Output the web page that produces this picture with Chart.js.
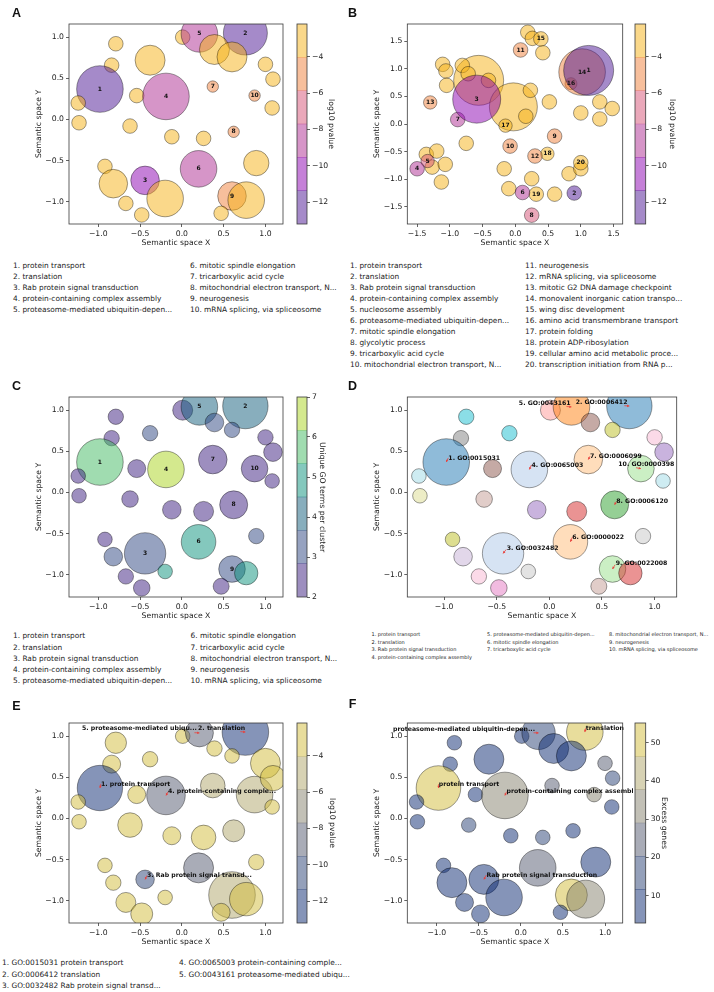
<!DOCTYPE html>
<html>
<head>
<meta charset="utf-8">
<script src="https://cdn.jsdelivr.net/npm/chart.js@4.4.0/dist/chart.umd.min.js"></script>
<style>
  html, body { margin: 0; padding: 0; background: #fff; }
  body { width: 714px; height: 992px; position: relative; overflow: hidden; font-family: 'DejaVu Sans', sans-serif; color: #222; }
  canvas { position: absolute; }
  .cb { background: #fff; }
  .tag { position: absolute; font: bold 12.5px 'Liberation Sans', Arial, sans-serif; color: #111; transform: translate(-50%, -50%); }
  .list { position: absolute; white-space: nowrap; color: #222; }
</style>
</head>
<body>
<canvas id="pA" width="290" height="250" style="left:0px;top:0px"></canvas>
<canvas id="cA" class="cb" width="60" height="250" style="left:290px;top:0px"></canvas>
<canvas id="pB" width="280" height="250" style="left:350px;top:0px"></canvas>
<canvas id="cB" class="cb" width="84" height="250" style="left:630px;top:0px"></canvas>
<canvas id="pC" width="290" height="250" style="left:0px;top:373px"></canvas>
<canvas id="cC" class="cb" width="60" height="250" style="left:290px;top:373px"></canvas>
<canvas id="pD" width="364" height="250" style="left:350px;top:373px"></canvas>
<canvas id="pE" width="290" height="250" style="left:0px;top:699px"></canvas>
<canvas id="cE" class="cb" width="60" height="250" style="left:290px;top:699px"></canvas>
<canvas id="pF" width="283" height="250" style="left:350px;top:699px"></canvas>
<canvas id="cF" class="cb" width="81" height="250" style="left:633px;top:699px"></canvas>

<div class="tag" style="left:16.5px;top:12.5px">A</div>
<div class="tag" style="left:352.5px;top:12.5px">B</div>
<div class="tag" style="left:16.5px;top:385.5px">C</div>
<div class="tag" style="left:352.5px;top:385.5px">D</div>
<div class="tag" style="left:16.5px;top:706px">E</div>
<div class="tag" style="left:352.5px;top:704px">F</div>

<script>
// ---- data ----
// the 10 clusters used in panels A, C, D, E, F
const clusterNames = [
  'protein transport', 'translation', 'Rab protein signal transduction',
  'protein-containing complex assembly',
  'proteasome-mediated ubiquitin-dependent protein catabolic process',
  'mitotic spindle elongation', 'tricarboxylic acid cycle',
  'mitochondrial electron transport, NADH to ubiquinone', 'neurogenesis',
  'mRNA splicing, via spliceosome'
];
const clusterGO = ['GO:0015031', 'GO:0006412', 'GO:0032482', 'GO:0065003', 'GO:0043161',
  'GO:0000022', 'GO:0006099', 'GO:0006120', 'GO:0022008', 'GO:0000398'];

// 33 terms in semantic space (panels A, C, D, E, F)
const semX = [0.01, 0.21, 0.76, 0.39, 0.60, -0.79, -0.84, -0.38, -0.98, -1.24, -1.23, -0.54, -0.19, 0.37, 0.87, 1.00, 1.09,
  1.08, -0.62, -0.12, 0.26, 0.62, 0.89, 0.20, -0.92, -0.44, -0.82, -0.20, 0.60, 0.77, -0.67, -0.48, 0.47];
const semY = [1.00, 1.04, 1.05, 0.85, 0.76, 0.92, 0.66, 0.72, 0.37, 0.20, -0.04, 0.29, 0.28, 0.40, 0.29, 0.67, 0.49,
  0.14, -0.08, -0.21, -0.23, -0.15, -0.53, -0.60, -0.57, -0.74, -0.78, -0.96, -0.93, -0.98, -1.02, -1.16, -1.14];
const clusterNo = [null, 5, 2, null, null, null, null, null, 1, null, null, null, 4, 7, 10, null, null,
  null, null, null, null, 8, null, 6, null, 3, null, null, 9, null, null, null, null];
const log10p = [-3.1, -8.6, -12.1, -2.9, -3.3, -2.7, -3.0, -3.4, -13.0, -2.6, -2.8, -3.2, -8.3, -5.1, -4.9, -3.0, -2.9,
  -2.7, -3.5, -3.1, -3.3, -5.2, -3.6, -8.8, -2.8, -10.4, -3.2, -3.7, -4.8, -3.0, -2.9, -3.1, -3.4];
const uniqueGO = [2, 4, 4, 3, 3, 2, 2, 3, 6, 2, 2, 2, 7, 2, 2, 2, 2,
  2, 2, 2, 2, 2, 3, 5, 2, 3, 3, 5, 3, 5, 2, 2, 2];
const excessGenes = [8, 16, 52, 8, 8, 8, 8, 8, 52, 8, 8, 8, 33, 25, 33, 25, 16,
  8, 16, 8, 16, 8, 8, 24, 8, 8, 8, 8, 50, 33, 8, 8, 8];
// bubble radii (px) per panel
const sizeA = [7.3, 18.3, 22, 15, 15, 7.3, 7.3, 15, 23.3, 7.3, 7.3, 7.3, 23.3, 5.7, 5.7, 7.3, 7.3,
  7.3, 7.3, 7.3, 7.3, 5.7, 12.7, 18.3, 7.3, 14.3, 14.3, 18.3, 14.3, 18.3, 7.3, 7.3, 7.3];
const sizeC = [10, 18.3, 22.7, 9.3, 7.7, 7.7, 7.7, 7.7, 23.3, 7.3, 7.3, 9, 18.3, 14.3, 13.3, 7.7, 9.3,
  7.3, 8.3, 9.3, 10, 14, 7.7, 17.3, 7.3, 20.7, 9.3, 7.3, 13.3, 11.7, 7.7, 8.3, 8];
const sizeE = [7.3, 14, 23.3, 7.7, 7.3, 10.7, 9, 7.7, 22.7, 7.3, 7.3, 9, 19.3, 12.3, 18.3, 15, 12.7,
  7.3, 12.3, 9, 12.3, 11, 7.7, 15, 7.3, 9.3, 7.7, 7.3, 23.3, 16.7, 10, 11, 9];
const sizeF = [7.3, 16.7, 18.3, 15, 15, 7.3, 7.3, 15, 22.3, 7.3, 7.3, 7.3, 23.3, 7.3, 7.3, 7.3, 7.3,
  7.3, 7.3, 7.3, 7.3, 7.3, 15, 18.3, 7.3, 15, 15, 18.3, 16, 19, 9, 9, 7.3];

// panel B: 20 clusters
const namesB = [
  'protein transport', 'translation', 'Rab protein signal transduction',
  'protein-containing complex assembly', 'nucleosome assembly',
  'proteasome-mediated ubiquitin-dependent protein catabolic process',
  'mitotic spindle elongation', 'glycolytic process', 'tricarboxylic acid cycle',
  'mitochondrial electron transport, NADH to ubiquinone', 'neurogenesis',
  'mRNA splicing, via spliceosome', 'mitotic G2 DNA damage checkpoint',
  'monovalent inorganic cation transport', 'wing disc development',
  'amino acid transmembrane transport', 'protein folding', 'protein ADP-ribosylation',
  'cellular amino acid metabolic process', 'transcription initiation from RNA polymerase II promoter'
];
const bX = [-0.56, -0.03, 0.19, 0.26, 0.42, -1.11, -1.06, -1.05, -0.81, -0.72, -0.41, 0.23, 0.16, 0.52, 1.00, 1.29,
  1.48, 1.29, -0.75, -1.36, -1.20, -1.27, -1.07, -1.13, -0.17, 0.25, -0.10, 0.82, 1.00, 0.60,
  1.00, 0.32, 0.49, -0.15, 0.85, 0.39, 1.02, -1.30, 0.30, 0.08, -0.08, 0.60, 0.25, -0.88, 0.11, -1.34, -1.50, -0.59, 0.90, 1.12];
const bY = [0.79, 0.31, 1.66, 1.55, 1.29, 1.08, 0.96, 0.70, 1.06, 0.91, 0.79, 0.61, 0.14, 0.40, 0.20, 0.40,
  0.28, 0.09, -0.35, -0.55, -0.49, -0.78, -0.73, -1.05, -0.81, -0.99, -1.17, -0.90, -0.81, -1.27,
  -0.70, -1.27, -0.54, -0.03, 0.73, 1.54, 0.94, 0.39, -0.58, 1.34, -0.40, -0.22, -1.65, 0.08, -1.24, -0.67, -0.81, 0.45, -1.25, 0.97];
const bSize = [25, 24, 7.3, 7.3, 7.3, 7.3, 7.3, 7.3, 7.3, 7.3, 7.3, 7.3, 7.3, 7.3, 7.3, 7.3,
  7.3, 7.3, 7.3, 7.3, 7.3, 7.3, 7.3, 7.3, 7.3, 7.3, 7.3, 7.3, 7.3, 7.3,
  7.3, 7.3, 6.7, 6.7, 6, 7.3, 23.3, 6.7, 7.3, 7.3, 7.3, 7.3, 7.3, 7.3, 7.3, 6.7, 7.3, 24, 7.3, 25];
const bLog10p = [-3.0, -2.8, -3.2, -2.9, -3.4, -3.1, -2.7, -3.3, -3.0, -2.9, -3.5, -3.1, -2.8, -3.2, -3.0, -2.6,
  -3.3, -2.9, -3.1, -3.4, -2.8, -3.0, -3.2, -2.7, -3.6, -3.1, -2.9, -3.3, -3.0, -2.8,
  -3.2, -3.3, -3.4, -3.5, -5.0, -3.6, -5.1, -5.2, -5.3, -5.4, -5.5, -5.6, -7.0, -8.0, -8.5, -7.0, -8.6, -10.5, -12.0, -13.0];
const bNo = [null, null, null, null, null, null, null, null, null, null, null, null, null, null, null, null,
  null, null, null, null, null, null, null, null, null, null, null, null, null, null,
  20, 19, 18, 17, 16, 15, 14, 13, 12, 11, 10, 9, 8, 7, 6, 5, 4, 3, 2, 1];

// axes
const xRange = [-1.35, 1.21], yRange = [-1.27, 1.16];
const bxRange = [-1.65, 1.64], byRange = [-1.81, 1.81];
const unitTicks = [-1, -0.5, 0, 0.5, 1];
const bTicks = [-1.5, -1, -0.5, 0, 0.5, 1, 1.5];
const pvalRange = [-13.2, -2.2], pvalTicks = [-12, -10, -8, -6, -4];
const uniqueRange = [2, 7], uniqueTicks = [2, 3, 4, 5, 6, 7];
const excessRange = [2.9, 55.1], excessTicks = [10, 20, 30, 40, 50];

// ---- styles ----
const plasma6 = ['#4b1593', '#8b01b1', '#ad2b91', '#d55175', '#ef7f39', '#f5b115'];
const viridis6 = ['#3b1d7f', '#2d4581', '#115d7b', '#09917b', '#41b961', '#a9d31d'];
const cividis6 = ['#0b2971', '#294175', '#53596f', '#85816d', '#afa569', '#d1bb39'];
const tab20 = ['#1f77b4', '#aec7e8', '#ff7f0e', '#ffbb78', '#2ca02c', '#98df8a', '#d62728', '#ff9896', '#9467bd', '#c5b0d5',
  '#8c564b', '#c49c94', '#e377c2', '#f7b6d2', '#7f7f7f', '#c7c7c7', '#bcbd22', '#dbdb8d', '#17becf', '#9edae5'];
const dColour = [7, 2, 0, 10, 16, 18, 14, 18, 0, 19, 17, 10, 1, 3, 5, 13, 8, 19, 11, 8, 6, 4, 15, 3, 16, 1, 9, 15, 5, 6, 13, 12, 11];
const ALPHA = 0.5;

Chart.defaults.font.family = "'DejaVu Sans', sans-serif";
Chart.defaults.font.size = 7.7;
Chart.defaults.color = '#222';

function rgba(hex, a) {
  const n = parseInt(hex.slice(1), 16);
  return `rgba(${n >> 16},${(n >> 8) & 255},${n & 255},${a})`;
}
function bandColour(v, range, pal) {
  let k = Math.floor((v - range[0]) / (range[1] - range[0]) * pal.length);
  k = Math.max(0, Math.min(pal.length - 1, k));
  return rgba(pal[k], ALPHA);
}
const minus = v => (v < 0 ? '\u2212' : '') + Math.abs(v);
const fmt1 = v => (v < 0 ? '\u2212' : '') + Math.abs(v).toFixed(1);
const trunc = (s, n) => s.length > n ? s.slice(0, n) + '...' : s;

// spines all round, like matplotlib
Chart.register({
  id: 'frame',
  afterDraw(chart) {
    const a = chart.chartArea, c = chart.ctx;
    c.save();
    c.strokeStyle = '#3a3a3a';
    c.lineWidth = 0.8;
    c.strokeRect(a.left, a.top, a.right - a.left, a.bottom - a.top);
    c.restore();
  }
});

function axisOpts(range, ticks, title, fit, titlePad, fmt) {
  return {
    type: 'linear', min: range[0], max: range[1],
    afterBuildTicks: s => { s.ticks = ticks.map(v => ({ value: v })); },
    afterFit: fit,
    grid: { drawOnChartArea: false, drawTicks: true, tickLength: 3, color: '#3a3a3a', lineWidth: 0.8 },
    border: { display: false },
    ticks: { padding: 2, autoSkip: false, maxRotation: 0, callback: v => fmt(v) },
    title: { display: true, text: title, padding: titlePad }
  };
}

function textPlugin(p) {
  return {
    id: 'bubbleText',
    afterDatasetsDraw(chart) {
      const ctx = chart.ctx, pts = chart.getDatasetMeta(0).data;
      const sx = chart.scales.x, sy = chart.scales.y;
      ctx.save();
      ctx.fillStyle = '#111';
      if (p.nums) {
        ctx.font = 'bold 6px "DejaVu Sans"';
        ctx.textAlign = 'center';
        ctx.textBaseline = 'middle';
        p.nums.forEach((n, i) => { if (n !== null) ctx.fillText(String(n), pts[i].x, pts[i].y); });
      }
      if (p.notes) {
        p.notes.forEach(n => {
          const c = pts[n.i];
          const tx = sx.getPixelForValue(n.tx), ty = sy.getPixelForValue(n.ty);
          // small red arrow from the label towards the bubble centre
          const dx = tx - c.x, dy = ty - c.y, d = Math.hypot(dx, dy) || 1;
          const ux = dx / d, uy = dy / d, L = Math.min(5, d);
          ctx.strokeStyle = '#e8413c';
          ctx.fillStyle = '#e8413c';
          ctx.lineWidth = 0.8;
          ctx.beginPath();
          ctx.moveTo(c.x + ux * L, c.y + uy * L);
          ctx.lineTo(c.x, c.y);
          ctx.stroke();
          ctx.beginPath();
          ctx.moveTo(c.x, c.y);
          ctx.lineTo(c.x + ux * 2.2 - uy * 1.3, c.y + uy * 2.2 + ux * 1.3);
          ctx.lineTo(c.x + ux * 2.2 + uy * 1.3, c.y + uy * 2.2 - ux * 1.3);
          ctx.closePath();
          ctx.fill();
          ctx.fillStyle = '#111';
          ctx.font = 'bold 6.2px "DejaVu Sans"';
          ctx.textAlign = 'left';
          ctx.textBaseline = 'middle';
          ctx.fillText(n.text, tx, ty);
        });
      }
      ctx.restore();
    }
  };
}

function bubblePanel(id, p) {
  const pts = p.x.map((x, i) => ({ x, y: p.y[i], r: p.r[i] }));
  return new Chart(document.getElementById(id), {
    type: 'bubble',
    data: { datasets: [{ data: pts, backgroundColor: p.fill, borderColor: 'rgba(0,0,0,0.55)', borderWidth: 0.7, clip: 0 }] },
    options: {
      responsive: false, animation: false, events: [],
      layout: { padding: { left: 0, right: p.right, top: 24, bottom: 0 }, autoPadding: false },
      plugins: { legend: { display: false }, tooltip: { enabled: false } },
      scales: {
        x: axisOpts(p.xr, p.xt, 'Semantic space X', s => { s.height = 26; }, { top: 0, bottom: 2.7 }, fmt1),
        y: axisOpts(p.yr, p.yt, 'Semantic space Y', s => { s.width = p.yW; }, { top: p.yPad, bottom: 0 }, fmt1)
      }
    },
    plugins: [textPlugin(p)]
  });
}

function colorbar(id, c) {
  const edges = [];
  for (let k = 0; k <= c.pal.length; k++) edges.push(c.range[0] + (c.range[1] - c.range[0]) * k / c.pal.length);
  return new Chart(document.getElementById(id), {
    type: 'bar',
    data: {
      labels: [''],
      datasets: c.pal.map((col, k) => ({
        data: [[edges[k], edges[k + 1]]], backgroundColor: rgba(col, ALPHA), borderWidth: 0,
        barPercentage: 1, categoryPercentage: 1, grouped: false
      }))
    },
    options: {
      responsive: false, animation: false, events: [],
      layout: { padding: { left: c.left, right: 0, top: 24, bottom: 26 }, autoPadding: false },
      plugins: { legend: { display: false }, tooltip: { enabled: false } },
      scales: {
        x: { display: false },
        y: Object.assign(axisOpts(c.range, c.ticks, c.title, s => { s.width = c.w; }, { top: c.tPad, bottom: 0 }, minus), { position: 'right' })
      }
    }
  });
}

function list(items, x, y, step, size) {
  const d = document.createElement('div');
  d.className = 'list';
  d.style.left = x + 'px';
  d.style.top = (y - step / 2) + 'px';
  d.style.fontSize = size + 'px';
  d.style.lineHeight = step + 'px';
  items.forEach(t => { const r = document.createElement('div'); r.textContent = t; d.appendChild(r); });
  document.body.appendChild(d);
}

// ---- panels ----
const idxOf = n => clusterNo.indexOf(n);

bubblePanel('pA', { x: semX, y: semY, r: sizeA, fill: log10p.map(v => bandColour(v, pvalRange, plasma6)),
  nums: clusterNo, xr: xRange, yr: yRange, xt: unitTicks, yt: unitTicks, right: 7, yW: 69, yPad: 34.4 });
colorbar('cA', { range: pvalRange, ticks: pvalTicks, pal: plasma6, title: 'log10 pvalue', left: 7, w: 43, tPad: 14.7 });

bubblePanel('pB', { x: bX, y: bY, r: bSize, fill: bLog10p.map(v => bandColour(v, pvalRange, plasma6)),
  nums: bNo, xr: bxRange, yr: byRange, xt: bTicks, yt: bTicks, right: 7.3, yW: 57.3, yPad: 22.1 });
colorbar('cB', { range: pvalRange, ticks: pvalTicks, pal: plasma6, title: 'log10 pvalue', left: 5, w: 68.3, tPad: 37.7 });

bubblePanel('pC', { x: semX, y: semY, r: sizeC, fill: uniqueGO.map(v => bandColour(v, uniqueRange, viridis6)),
  nums: clusterNo, xr: xRange, yr: yRange, xt: unitTicks, yt: unitTicks, right: 7, yW: 69, yPad: 34.4 });
colorbar('cC', { range: uniqueRange, ticks: uniqueTicks, pal: viridis6, title: 'Unique GO terms per cluster', left: 7, w: 43, tPad: 23.7 });

bubblePanel('pD', { x: semX, y: semY, r: sizeC, fill: dColour.map(k => rgba(tab20[k], ALPHA)),
  xr: xRange, yr: yRange, xt: unitTicks, yt: unitTicks, right: 37.3, yW: 57.3, yPad: 22.1,
  notes: [
    [1, -0.96, 0.42], [2, 0.25, 1.097], [3, -0.405, -0.685], [4, -0.17, 0.335], [5, -0.29, 1.085],
    [6, 0.218, -0.544], [7, 0.386, 0.44], [8, 0.636, -0.11], [9, 0.63, -0.867], [10, 0.655, 0.34]
  ].map(([n, tx, ty]) => ({ i: idxOf(n), tx, ty, text: n + '. ' + clusterGO[n - 1] })) });

bubblePanel('pE', { x: semX, y: semY, r: sizeE, fill: log10p.map(v => bandColour(v, pvalRange, cividis6)),
  xr: xRange, yr: yRange, xt: unitTicks, yt: unitTicks, right: 7, yW: 69, yPad: 34.4,
  notes: [
    [5, -1.195, 1.089], [2, 0.194, 1.097], [1, -0.968, 0.42], [4, -0.166, 0.324], [3, -0.417, -0.692]
  ].map(([n, tx, ty]) => ({ i: idxOf(n), tx, ty, text: n + '. ' + trunc(clusterNames[n - 1], 25) })) });
colorbar('cE', { range: pvalRange, ticks: pvalTicks, pal: cividis6, title: 'log10 pvalue', left: 7, w: 43, tPad: 13.7 });

bubblePanel('pF', { x: semX, y: semY, r: sizeF, fill: excessGenes.map(v => bandColour(v, excessRange, cividis6)),
  xr: xRange, yr: yRange, xt: unitTicks, yt: unitTicks, right: 10.3, yW: 57.3, yPad: 22.1,
  notes: [
    [5, -1.52, 1.08], [2, 0.77, 1.096], [1, -0.976, 0.418], [4, -0.17, 0.325], [3, -0.41, -0.687]
  ].map(([n, tx, ty]) => ({ i: idxOf(n), tx, ty, text: trunc(clusterNames[n - 1], 35) })) });
colorbar('cF', { range: excessRange, ticks: excessTicks, pal: cividis6, title: 'Excess genes', left: 2, w: 68.3, tPad: 45.4 });

// ---- term lists under the panels ----
const numbered = (names, from, to, n) => names.slice(from, to).map((t, k) => (from + k + 1) + '. ' + trunc(t, n));
list(numbered(clusterNames, 0, 5, 35), 13, 265, 11, 7.4);
list(numbered(clusterNames, 5, 10, 35), 190, 265, 11, 7.4);
list(numbered(namesB, 0, 10, 35), 350, 265, 11, 7.4);
list(numbered(namesB, 10, 20, 35), 525, 265, 11, 7.4);
list(numbered(clusterNames, 0, 5, 35), 13, 636, 11.2, 7.4);
list(numbered(clusterNames, 5, 10, 35), 190.5, 636, 11.2, 7.4);
list(numbered(clusterNames, 0, 4, 35), 371.5, 635, 7.6, 5);
list(numbered(clusterNames, 4, 7, 35), 487, 635, 7.6, 5);
list(numbered(clusterNames, 7, 10, 35), 609, 635, 7.6, 5);
const goLine = (from, to) => clusterNames.slice(from, to).map((t, k) => (from + k + 1) + '. ' + clusterGO[from + k] + ' ' + trunc(t, 25));
list(goLine(0, 3), 2, 963, 11.3, 7.4);
list(goLine(3, 5), 179, 963, 11.3, 7.4);
</script>
</body>
</html>
